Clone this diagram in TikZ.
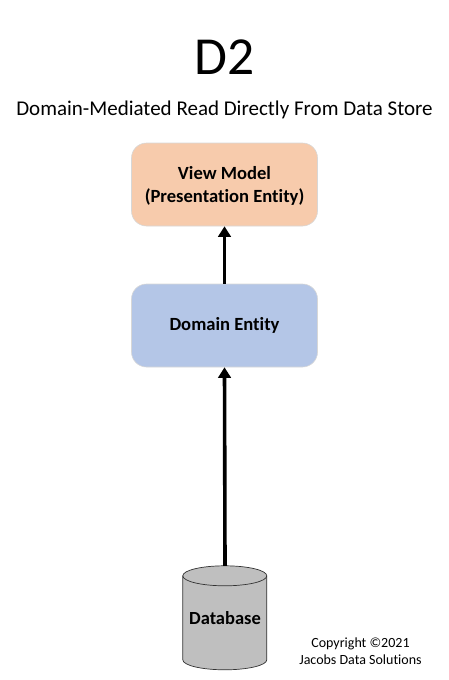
\documentclass[tikz,border=0pt]{standalone}
\usepackage{fontspec}
\setmainfont[Ligatures=NoCommon]{Carlito}
\usetikzlibrary{arrows.meta}
\definecolor{viewfill}{RGB}{247,203,172}
\definecolor{domainfill}{RGB}{180,198,231}
\definecolor{boxedge}{RGB}{215,215,215}
\definecolor{dbfill}{RGB}{191,191,191}
\definecolor{dbedge}{RGB}{50,50,50}
\tikzset{
  x=1pt,y=-1pt,
  entity/.style={rounded corners=15pt,minimum width=186pt,minimum height=83pt,inner sep=0pt,align=center,draw=boxedge,line width=0.6pt,font=\fontsize{18.6}{24}\selectfont\bfseries},
  flow/.style={line width=3.6pt,-{Triangle[length=10.5pt,width=12.5pt]},shorten >=0pt},
  dbbody/.style={fill=dbfill,draw=dbedge,line width=0.7pt},
}
\begin{document}
\begin{tikzpicture}
\useasboundingbox (0,0) rectangle (449,680);
\node[inner sep=0pt] (title) at (224.5,57) {\fontsize{53.5}{56}\selectfont D2};
\node[inner sep=0pt] (subtitle) at (224.5,110) {\fontsize{21}{25}\selectfont Domain-Mediated Read Directly From Data Store};
\node[entity,fill=viewfill,text depth=0pt] (view) at (224.5,184.5) {\raisebox{-1pt}{View Model}\\(Presentation Entity)};
\node[entity,fill=domainfill] (domain) at (224.5,325.5) {\raisebox{-1pt}{Domain Entity}};
\node[minimum width=84pt,minimum height=104pt,inner sep=0pt] (db) at (225,618) {};
\path[dbbody] (db.north west) ++(0,10) -- ++(0,84) arc[x radius=42,y radius=-10,start angle=180,end angle=360] -- ++(0,-84) arc[x radius=42,y radius=-10,start angle=0,end angle=180] -- cycle;
\draw[dbedge,line width=0.7pt] (db.north west) ++(0,10) arc[x radius=42,y radius=-10,start angle=180,end angle=360];
\node[inner sep=0pt,font=\fontsize{18.5}{22}\selectfont\bfseries] (dblabel) at (db.center) {Database};
\node[inner sep=0pt,align=center,font=\fontsize{14}{17.5}\selectfont] (copy) at (360.5,651) {Copyright ©2021\\Jacobs Data Solutions};
\draw[flow] (domain.north) -- (view.south);
\draw[flow] (db.north) -- (domain.south);
\end{tikzpicture}
\end{document}
